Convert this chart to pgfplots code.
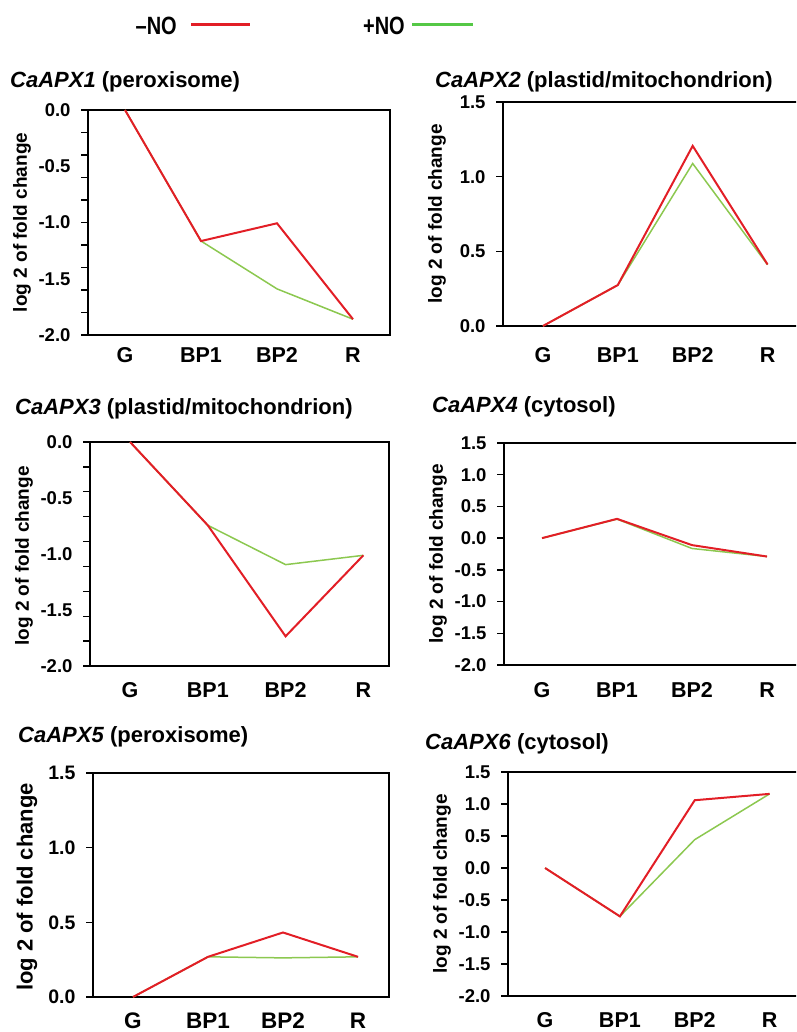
\documentclass[border=0pt]{standalone}
\usepackage{fontspec}
\setmainfont{Liberation Sans}
\usepackage{pgfplots}
\pgfplotsset{compat=1.18}

\definecolor{nored}{RGB}{226,30,38}
\definecolor{nogreen}{RGB}{140,200,80}
\definecolor{leggreen}{RGB}{85,200,70}

\newcommand{\tfont}{\fontsize{22}{26}\selectfont\bfseries}

\pgfplotsset{
  apx/.style={
    scale only axis,
    axis line style={line width=1.8pt},
    xtick={0,1,2,3}, xticklabels={G,BP1,BP2,R},
    xticklabel style={font=\fontsize{21.5}{24}\selectfont\bfseries, anchor=base},
    ytick pos=left, tick align=outside,
    major tick length=0pt, minor tick length=7pt,
    minor tick style={line width=1.4pt, black},
    yticklabel style={font=\fontsize{18.5}{21}\selectfont\bfseries, anchor=east, xshift=-14pt},
    every axis y label/.style={at={(axis description cs:0,0.5)}, xshift=-66pt, rotate=90, anchor=center,
      font=\fontsize{19}{22}\selectfont\bfseries},
    ylabel={log 2 of fold change},
    clip=false,
  },
  up/.style={ymin=0, ymax=1.5, ytick={0,0.5,1,1.5}, yticklabels={0.0,0.5,1.0,1.5},
    minor ytick={0,0.5,1,1.5}},
  wide/.style={ymin=-2, ymax=1.5, ytick={-2,-1.5,-1,-0.5,0,0.5,1,1.5},
    yticklabels={-2.0,-1.5,-1.0,-0.5,0.0,0.5,1.0,1.5},
    minor ytick={-2,-1.5,-1,-0.5,0,0.5,1,1.5}},
  down/.style={ymin=-2, ymax=0, ytick={0,-0.5,-1,-1.5,-2}, yticklabels={0.0,-0.5,-1.0,-1.5,-2.0}},
  minus/.style={nored, line width=2pt},
  plus/.style={nogreen, line width=1.5pt},
}

\begin{document}
\begin{tikzpicture}[x=1pt,y=1pt]
\useasboundingbox (0,0) rectangle (796,1032);
\clip (0,0) rectangle (796,1032);

% legend
\node[anchor=base east, inner sep=0] at (177,997) {\bfseries\fontsize{25}{28}\selectfont\scalebox{0.8}[1]{\textbf{–NO}}};
\draw[nored, line width=3pt] (191,1007) -- (250,1007);
\node[anchor=base east, inner sep=0] at (405,997) {\bfseries\fontsize{25}{28}\selectfont\scalebox{0.8}[1]{\textbf{+NO}}};
\draw[leggreen, line width=3pt] (412,1007) -- (473,1007);

% titles
\node[anchor=base west, inner sep=0] at (10,944) {\tfont\textit{CaAPX1} (peroxisome)};
\node[anchor=base west, inner sep=0] at (435,944) {\tfont\textit{CaAPX2} (plastid/mitochondrion)};
\node[anchor=base west, inner sep=0] at (15,617) {\tfont\textit{CaAPX3} (plastid/mitochondrion)};
\node[anchor=base west, inner sep=0] at (432,619) {\tfont\textit{CaAPX4} (cytosol)};
\node[anchor=base west, inner sep=0] at (18,289) {\tfont\textit{CaAPX5} (peroxisome)};
\node[anchor=base west, inner sep=0] at (425,282) {\tfont\textit{CaAPX6} (cytosol)};

% CaAPX1
\begin{axis}[apx, down, at={(88pt,697pt)}, anchor=south west, width=302pt, height=225pt,
  xmin=-0.487, xmax=3.487, minor ytick={0,-0.2,-0.4,-0.6,-0.8,-1,-1.2,-1.4,-1.6,-1.8,-2},
  xticklabel style={yshift=-28pt}]
\addplot[plus] coordinates {(0,0)(1,-1.165)(2,-1.59)(3,-1.86)};
\addplot[minus] coordinates {(0,0)(1,-1.165)(2,-1.007)(3,-1.86)};
\end{axis}

% CaAPX2
\begin{axis}[apx, up, at={(503pt,706pt)}, anchor=south west, width=302pt, height=224pt,
  xmin=-0.533, xmax=3.5, xticklabel style={yshift=-37pt}]
\addplot[plus] coordinates {(0,0)(1,0.274)(2,1.088)(3,0.41)};
\addplot[minus] coordinates {(0,0)(1,0.274)(2,1.206)(3,0.412)};
\end{axis}

% CaAPX3
\begin{axis}[apx, down, at={(90pt,366pt)}, anchor=south west, width=299pt, height=224pt,
  xmin=-0.515, xmax=3.33,
  minor ytick={0,-0.2222,-0.4444,-0.6667,-0.8889,-1.1111,-1.3333,-1.5556,-1.7778,-2},
  xticklabel style={yshift=-32pt}, every axis y label/.append style={xshift=-2pt}]
\addplot[plus] coordinates {(0,0)(1,-0.744)(2,-1.095)(3,-1.012)};
\addplot[minus] coordinates {(0,0)(1,-0.744)(2,-1.735)(3,-1.012)};
\end{axis}

% CaAPX4
\begin{axis}[apx, wide, at={(504pt,367pt)}, anchor=south west, width=300.5pt, height=222pt,
  xmin=-0.507, xmax=3.5, xticklabel style={yshift=-33pt}]
\addplot[plus] coordinates {(0,0)(1,0.30)(2,-0.163)(3,-0.29)};
\addplot[minus] coordinates {(0,0)(1,0.304)(2,-0.11)(3,-0.29)};
\end{axis}

% CaAPX5
\begin{axis}[apx, up, at={(93pt,35pt)}, anchor=south west, width=296pt, height=224pt,
  xmin=-0.533, xmax=3.413,
  xticklabel style={yshift=-31pt, font=\fontsize{22.5}{25}\selectfont\bfseries},
  yticklabel style={font=\fontsize{19.5}{22}\selectfont\bfseries},
  every axis y label/.append style={xshift=-2pt, font=\fontsize{22}{25}\selectfont\bfseries}]
\addplot[plus] coordinates {(0,0)(1,0.269)(2,0.262)(3,0.269)};
\addplot[minus] coordinates {(0,0)(1,0.269)(2,0.432)(3,0.269)};
\end{axis}

% CaAPX6
\begin{axis}[apx, wide, at={(508pt,36pt)}, anchor=south west, width=299pt, height=224pt,
  xmin=-0.495, xmax=3.5, xticklabel style={yshift=-31pt}]
\addplot[plus] coordinates {(0,0)(1,-0.756)(2,0.443)(3,1.158)};
\addplot[minus] coordinates {(0,0)(1,-0.756)(2,1.059)(3,1.158)};
\end{axis}
\end{tikzpicture}
\end{document}
